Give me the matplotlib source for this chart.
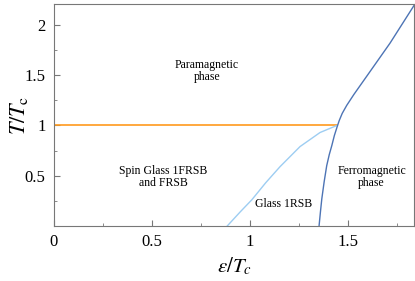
import numpy as np
import matplotlib
matplotlib.use('Agg')
import matplotlib.pyplot as plt
from matplotlib.ticker import MultipleLocator

# phase boundaries
para_x = [0.0, 1.443]
para_y = [1.0, 1.0]

glass_x = [0.884, 0.95, 1.009, 1.08, 1.153, 1.255, 1.357, 1.443]
glass_y = [0.0, 0.14, 0.26, 0.43, 0.59, 0.79, 0.93, 1.0]

ferro_x = [1.352, 1.359, 1.366, 1.378, 1.391, 1.404, 1.417, 1.430, 1.443, 1.455,
           1.470, 1.493, 1.530, 1.595, 1.714, 1.838]
ferro_y = [0.0, 0.14, 0.27, 0.44, 0.6, 0.71, 0.8, 0.9, 0.98, 1.05,
           1.12, 1.2, 1.31, 1.49, 1.82, 2.2]

plt.rcParams['font.family'] = 'Liberation Serif'
plt.rcParams['mathtext.fontset'] = 'stix'

fig = plt.figure(figsize=(4.15, 2.81), dpi=100)
ax = fig.add_axes([0.130, 0.196, 0.868, 0.790])

ax.plot(para_x, para_y, color='#FF9A1E', lw=1.2)
ax.plot(glass_x, glass_y, color='#9DCDF2', lw=1.0)
ax.plot(ferro_x, ferro_y, color='#4D74B5', lw=1.0)

ax.text(0.78, 1.54, 'Paramagnetic\nphase', ha='center', va='center', fontsize=8.5, linespacing=1.0)
ax.text(0.556, 0.49, 'Spin Glass 1FRSB\nand FRSB', ha='center', va='center', fontsize=8.5, linespacing=1.0)
ax.text(1.17, 0.22, 'Glass 1RSB', ha='center', va='center', fontsize=8.5)
ax.text(1.62, 0.49, 'Ferromagnetic\nphase', ha='center', va='center', fontsize=8.5, linespacing=1.0)

ax.set_xlim(0, 1.837)
ax.set_ylim(0.0, 2.21)
ax.set_xticks([0, 0.5, 1, 1.5])
ax.set_xticklabels(['0', '0.5', '1', '1.5'])
ax.xaxis.set_minor_locator(MultipleLocator(0.25))
ax.set_yticks([0.5, 1, 1.5, 2])
ax.set_yticklabels(['0.5', '1', '1.5', '2'])
ax.yaxis.set_minor_locator(MultipleLocator(0.25))
ax.tick_params(which='both', direction='in', labelsize=12, color='#777777', pad=6)
ax.tick_params(which='major', length=4)
ax.tick_params(which='minor', length=2.5)
for s in ax.spines.values():
    s.set_color('#777777')

ax.set_xlabel(r'$\epsilon/T_c$', fontsize=15, labelpad=4)
ax.set_ylabel(r'$T/T_{\rm c}$', fontsize=16)
ax.yaxis.set_label_coords(-0.067, 0.5)

fig.savefig('out.png', dpi=100)
